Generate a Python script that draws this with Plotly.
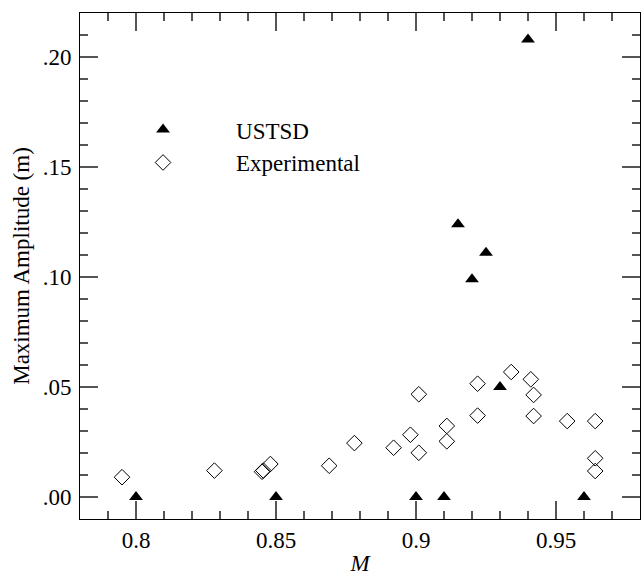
import plotly.graph_objects as go

# USTSD predictions
ustsd_M = [0.80, 0.85, 0.90, 0.91, 0.915, 0.92, 0.925, 0.93, 0.94, 0.96]
ustsd_amp = [0.0, 0.0, 0.0, 0.0, 0.124, 0.099, 0.111, 0.050, 0.208, 0.0]

# Experimental data
exp_M = [0.795, 0.828, 0.845, 0.8455, 0.848, 0.869, 0.878, 0.892, 0.898, 0.901,
         0.901, 0.911, 0.911, 0.922, 0.922, 0.934, 0.941, 0.942, 0.942, 0.954,
         0.964, 0.964, 0.964]
exp_amp = [0.009, 0.012, 0.0115, 0.012, 0.015, 0.0142, 0.0245, 0.0224, 0.0283, 0.0467,
           0.0201, 0.0323, 0.0253, 0.0515, 0.037, 0.0568, 0.0535, 0.0464, 0.0368, 0.0345,
           0.0345, 0.0176, 0.0118]

y_alias = {"0.00": ".00", "0.05": ".05", "0.10": ".10", "0.15": ".15", "0.20": ".20"}

FONT = "Liberation Serif, Times New Roman, serif"
TICKC = "#555555"

fig = go.Figure()
fig.add_trace(go.Scatter(
    x=ustsd_M, y=ustsd_amp, mode="markers", name="USTSD", legendgroup="a",
    marker=dict(symbol="triangle-up", size=12, color="black", line=dict(width=0)),
))
fig.add_trace(go.Scatter(
    x=exp_M, y=exp_amp, mode="markers", name="Experimental", legendgroup="b",
    marker=dict(symbol="diamond-open", size=12, color="black", line=dict(width=1, color="black")),
))

axis_common = dict(
    showline=True, linecolor="black", linewidth=1, mirror="allticks",
    ticks="inside", ticklen=18, tickwidth=2, tickcolor=TICKC,
    showgrid=False, zeroline=False, automargin=False,
    tickfont=dict(family=FONT, size=23, color="black"),
)
minor_common = dict(ticks="inside", ticklen=8, dtick=0.01, tickcolor=TICKC, tickwidth=2, showgrid=False)

fig.update_xaxes(
    range=[0.78, 0.98], tickmode="linear", tick0=0.8, dtick=0.05,
    minor=minor_common,
    title=dict(text="<i>M</i>", font=dict(family=FONT, size=23, color="black"), standoff=9),
    **axis_common,
)
fig.update_yaxes(
    range=[-0.01, 0.22], tickmode="linear", tick0=0.0, dtick=0.05, tickformat=".2f",
    labelalias=y_alias, ticklabelstandoff=3,
    minor=minor_common,
    title=dict(text="Maximum Amplitude (m)", font=dict(family=FONT, size=23, color="black"), standoff=6),
    **axis_common,
)

fig.update_layout(
    template="simple_white",
    width=641, height=576,
    margin=dict(l=80, r=1, t=13, b=57),
    paper_bgcolor="white", plot_bgcolor="white",
    font=dict(family=FONT, size=23, color="black"),
    showlegend=True,
    legend=dict(
        x=0.0179, y=0.812, xanchor="left", yanchor="top",
        bgcolor="rgba(0,0,0,0)", borderwidth=0,
        font=dict(family=FONT, size=23, color="black"),
        itemwidth=136, tracegroupgap=0,
    ),
)

fig.write_html("out.html")
